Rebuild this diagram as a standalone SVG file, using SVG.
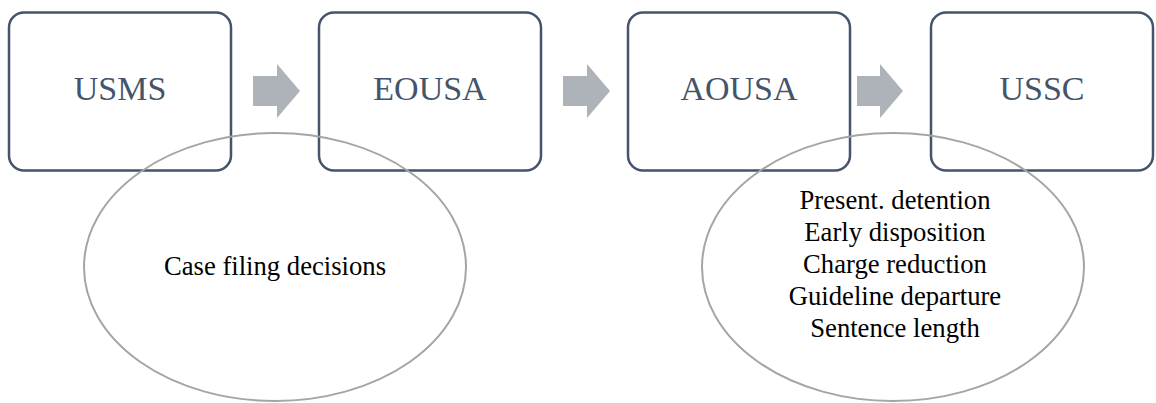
<svg xmlns="http://www.w3.org/2000/svg" width="1156" height="403" viewBox="0 0 1156 403">
<style>
.box{fill:#fff;stroke:#44546A;stroke-width:2.5}
.lbl{font-family:"Liberation Serif","Times New Roman",serif;font-size:34px;fill:#44546A;text-anchor:middle}
.arr{fill:#AEB2B9}
.ell{fill:none;stroke:#A5A5A5;stroke-width:2}
.etx{font-family:"Liberation Serif","Times New Roman",serif;font-size:26.67px;fill:#000;text-anchor:middle}
</style>
<rect width="1156" height="403" fill="#fff"/>
<g id="node-usms"><rect class="box" x="9" y="12.5" width="222" height="158" rx="15"/><text class="lbl" x="120" y="100">USMS</text></g>
<g id="node-eousa"><rect class="box" x="319" y="12.5" width="222" height="158" rx="15"/><text class="lbl" x="430" y="100">EOUSA</text></g>
<g id="node-aousa"><rect class="box" x="628" y="12.5" width="222" height="158" rx="15"/><text class="lbl" x="739" y="100">AOUSA</text></g>
<g id="node-ussc"><rect class="box" x="931" y="12.5" width="222" height="158" rx="15"/><text class="lbl" x="1042" y="100">USSC</text></g>
<g id="connectors">
<polygon class="arr" points="253,76 277,76 277,64 300,91 277,118 277,106 253,106"/>
<polygon class="arr" points="563,76 587,76 587,64 610,91 587,118 587,106 563,106"/>
<polygon class="arr" points="857,76 880,76 880,64 903,91 880,118 880,106 857,106"/>
</g>
<g id="node-case-filing"><ellipse class="ell" cx="275" cy="267" rx="191" ry="134"/><text class="etx" x="275" y="275">Case filing decisions</text></g>
<g id="node-outcomes"><ellipse class="ell" cx="893" cy="267" rx="191" ry="134"/>
<text class="etx" x="895" y="209">Present. detention</text>
<text class="etx" x="895" y="241">Early disposition</text>
<text class="etx" x="895" y="273">Charge reduction</text>
<text class="etx" x="895" y="305">Guideline departure</text>
<text class="etx" x="895" y="337">Sentence length</text>
</g>
</svg>
